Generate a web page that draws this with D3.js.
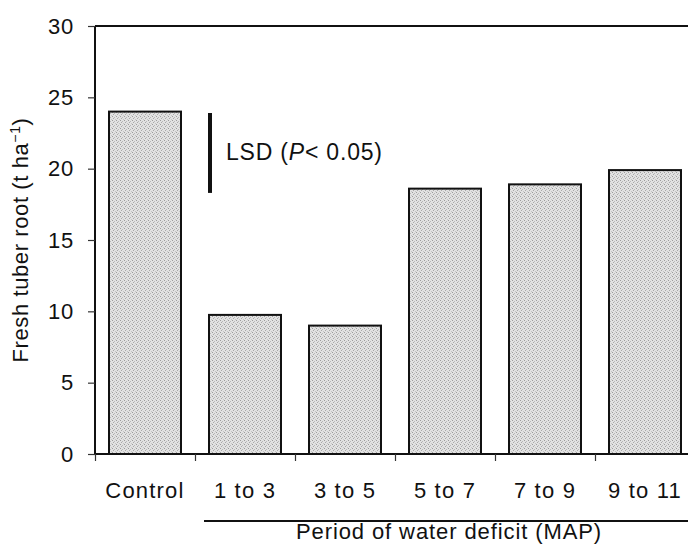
<!DOCTYPE html>
<html>
<head>
<meta charset="utf-8">
<script src="https://cdn.jsdelivr.net/npm/d3@7/dist/d3.min.js"></script>
<style>
  html, body { margin: 0; padding: 0; background: #fff; }
  svg { display: block; font-family: "Liberation Sans", Arial, Helvetica, sans-serif; }
  text { fill: #111; }
</style>
</head>
<body>
<svg id="chart" width="688" height="548"></svg>
<script>
// Fresh tuber root yield by period of water deficit
const categories = ["Control", "1 to 3", "3 to 5", "5 to 7", "7 to 9", "9 to 11"];
const yieldValues = [24.0, 9.75, 9.0, 18.6, 18.9, 19.9];
const yTicks = [0, 5, 10, 15, 20, 25, 30];
const lsdTop = 23.9;
const lsdValue = 5.6;

(function draw() {
  const svg = d3.select("#chart");
  const plotLeft = 95, plotRight = 695, plotTop = 26, plotBottom = 454;

  // Stippled grey fill for the bars
  const defs = svg.append("defs");
  const pat = defs.append("pattern")
    .attr("id", "stipple").attr("patternUnits", "userSpaceOnUse")
    .attr("width", 4).attr("height", 4);
  pat.append("rect").attr("width", 4).attr("height", 4).attr("fill", "#e2e2e2");
  [[0, 0, "#9c9c9c"], [2, 1, "#b8b8b8"], [1, 2, "#a8a8a8"], [3, 3, "#c4c4c4"]].forEach(([px, py, c]) =>
    pat.append("rect").attr("x", px).attr("y", py).attr("width", 1).attr("height", 1).attr("fill", c));

  const x = d3.scaleBand().domain(categories).range([plotLeft, plotRight])
    .paddingInner(0.28).paddingOuter(0.14);
  const y = d3.scaleLinear().domain([0, 30]).range([plotBottom, plotTop]);

  // Bars
  svg.append("g").selectAll("rect").data(categories).join("rect")
    .attr("x", d => x(d))
    .attr("y", (d, i) => y(yieldValues[i]))
    .attr("width", x.bandwidth())
    .attr("height", (d, i) => y(0) - y(yieldValues[i]))
    .attr("fill", "url(#stipple)")
    .attr("stroke", "#111").attr("stroke-width", 2);

  // Y axis
  const yAxis = svg.append("g").attr("transform", `translate(${plotLeft},0)`)
    .call(d3.axisLeft(y).tickValues(yTicks).tickSize(7).tickPadding(14).tickFormat(d3.format("d")));
  yAxis.select(".domain").attr("stroke", "#111").attr("stroke-width", 2).attr("d", `M0,${plotTop}V${plotBottom}`);
  yAxis.selectAll(".tick line").attr("stroke", "#333").attr("stroke-width", 1.2);
  yAxis.selectAll(".tick text").attr("font-size", 22).attr("letter-spacing", 0.8).attr("fill", "#111");

  // X axis with boundary ticks between categories
  const xAxis = svg.append("g").attr("transform", `translate(0,${plotBottom})`);
  xAxis.append("line").attr("x1", plotLeft).attr("x2", 688).attr("y1", 0).attr("y2", 0)
    .attr("stroke", "#111").attr("stroke-width", 2);
  xAxis.selectAll("line.tick").data(categories).join("line").attr("class", "tick")
    .attr("x1", d => x(d) - x.step() * x.paddingOuter() + 0.5)
    .attr("x2", d => x(d) - x.step() * x.paddingOuter() + 0.5)
    .attr("y1", 0).attr("y2", 7).attr("stroke", "#333").attr("stroke-width", 1.2);
  xAxis.selectAll("text").data(categories).join("text")
    .attr("x", d => x(d) + x.bandwidth() / 2)
    .attr("y", 44)
    .attr("text-anchor", "middle").attr("font-size", 22).attr("letter-spacing", 1.2)
    .text(d => d);

  // Top frame line
  svg.append("line").attr("x1", plotLeft).attr("x2", 688).attr("y1", plotTop).attr("y2", plotTop)
    .attr("stroke", "#111").attr("stroke-width", 2);

  // LSD bar and label
  svg.append("line").attr("x1", 210).attr("x2", 210)
    .attr("y1", y(lsdTop)).attr("y2", y(lsdTop - lsdValue))
    .attr("stroke", "#111").attr("stroke-width", 4);
  const lsd = svg.append("text").attr("x", 226).attr("y", 160)
    .attr("font-size", 23).attr("letter-spacing", 0.8);
  lsd.append("tspan").text("LSD (");
  lsd.append("tspan").attr("font-style", "italic").text("P");
  lsd.append("tspan").text("< 0.05)");

  // Y axis title
  const yt = svg.append("text")
    .attr("transform", `translate(28,${(plotTop + plotBottom) / 2}) rotate(-90)`)
    .attr("text-anchor", "middle").attr("font-size", 22).attr("letter-spacing", 0.6);
  yt.append("tspan").text("Fresh tuber root (t ha");
  yt.append("tspan").attr("font-size", 14).attr("dy", -8).text("−1");
  yt.append("tspan").attr("dy", 8).text(")");

  // Bracket and title for the deficit periods
  svg.append("line").attr("x1", 204).attr("x2", 688).attr("y1", 521).attr("y2", 521)
    .attr("stroke", "#111").attr("stroke-width", 2);
  svg.append("text").attr("x", 449).attr("y", 539)
    .attr("text-anchor", "middle").attr("font-size", 22).attr("letter-spacing", 0.9)
    .text("Period of water deficit (MAP)");
})();
</script>
</body>
</html>
